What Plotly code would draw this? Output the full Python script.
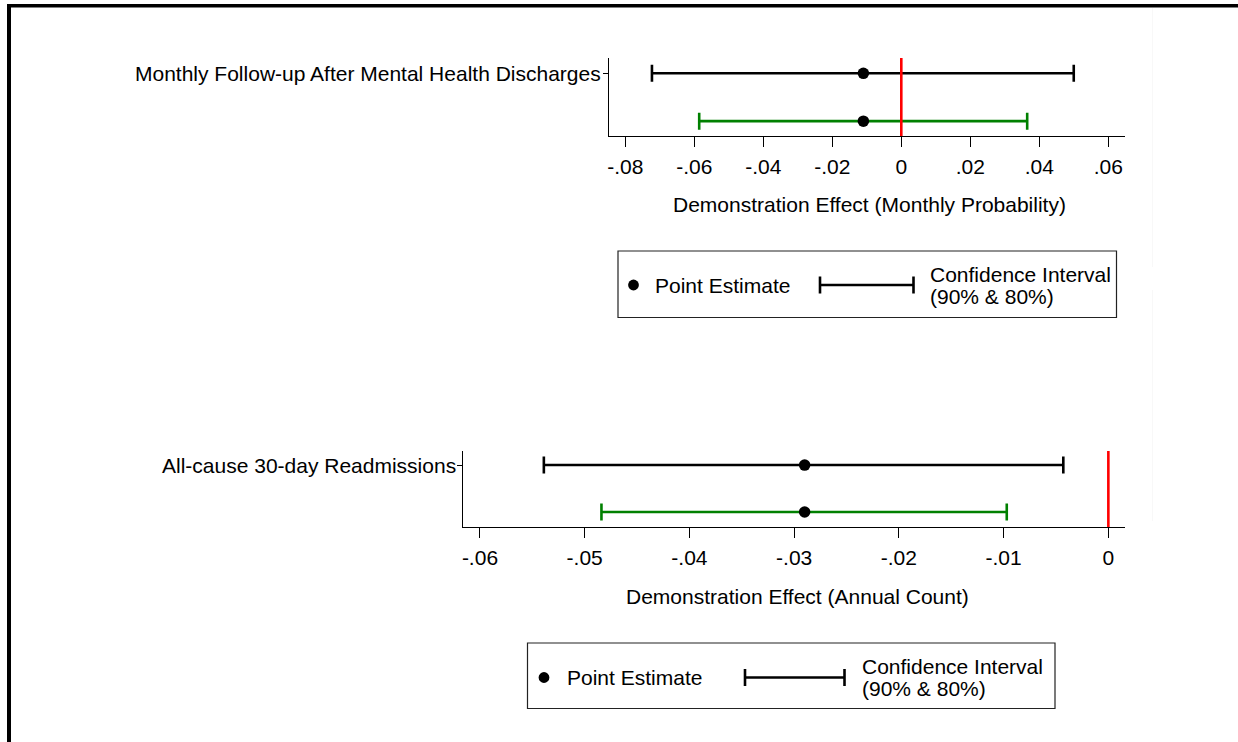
import plotly.graph_objects as go

# ---- data -------------------------------------------------------------
outcomes = ["Monthly Follow-up After Mental Health Discharges",
            "All-cause 30-day Readmissions"]
axis_titles = ["Demonstration Effect (Monthly Probability)",
               "Demonstration Effect (Annual Count)"]
point_estimate = [-0.0110, -0.0290]
ci90_low = [-0.0723, -0.0539]
ci90_high = [0.0500, -0.0043]
ci80_low = [-0.0586, -0.0484]
ci80_high = [0.0365, -0.0097]

top_tick_vals = [-0.08, -0.06, -0.04, -0.02, 0, 0.02, 0.04, 0.06]
top_tick_text = ["-.08", "-.06", "-.04", "-.02", "0", ".02", ".04", ".06"]
bot_tick_vals = [-0.06, -0.05, -0.04, -0.03, -0.02, -0.01, 0]
bot_tick_text = ["-.06", "-.05", "-.04", "-.03", "-.02", "-.01", "0"]

legend_point_label = "Point Estimate"
legend_ci_label = ["Confidence Interval", "(90% & 80%)"]

# ---- canvas helpers ---------------------------------------------------
W, H = 1238, 742
FONT = "Liberation Sans, Arial, Helvetica, sans-serif"
FS = 21
GREEN = "rgb(0,128,0)"


def fx(p):
    return p / W


def fy(p):
    return 1 - p / H


fig = go.Figure()

panels = [
    dict(xa="x", ya="y", xdom=(608.7, 1125), ydom=(58, 136),
         xrange=(-0.08484, 0.06486), yrange=(2.31, 0.68),
         tv=top_tick_vals, tt=top_tick_text, title_y=204),
    dict(xa="x2", ya="y2", xdom=(463, 1125), ydom=(451, 527),
         xrange=(-0.06162, 0.00159), yrange=(2.32, 0.70),
         tv=bot_tick_vals, tt=bot_tick_text, title_y=596),
]

shapes = []
annotations = []

for i, p in enumerate(panels):
    # 90% interval on the first row, 80% interval on the second row
    for row, lo, hi, col in ((1, ci90_low[i], ci90_high[i], "black"),
                             (2, ci80_low[i], ci80_high[i], GREEN)):
        est = point_estimate[i]
        fig.add_trace(go.Scatter(
            x=[est], y=[row], xaxis=p["xa"], yaxis=p["ya"],
            mode="markers",
            marker=dict(color="black", size=11.5),
            error_x=dict(type="data", symmetric=False,
                         array=[hi - est], arrayminus=[est - lo],
                         color=col, thickness=2.6, width=8.5),
            showlegend=False, hoverinfo="skip"))

    sfx = "" if i == 0 else "2"
    fig.layout["xaxis" + sfx] = dict(
        domain=[fx(p["xdom"][0]), fx(p["xdom"][1])],
        range=list(p["xrange"]), anchor="y" + sfx,
        showline=True, linecolor="black", linewidth=1,
        ticks="outside", ticklen=10, tickwidth=1, tickcolor="black",
        tickvals=p["tv"], ticktext=p["tt"], ticklabelstandoff=2,
        tickfont=dict(family=FONT, size=FS, color="black"),
        showgrid=False, zeroline=False, fixedrange=True)
    fig.layout["yaxis" + sfx] = dict(
        domain=[fy(p["ydom"][1]), fy(p["ydom"][0])],
        range=list(p["yrange"]), anchor="x" + sfx,
        showline=True, linecolor="black", linewidth=1,
        ticks="outside", ticklen=5, tickwidth=1, tickcolor="black",
        tickvals=[1], showticklabels=False,
        showgrid=False, zeroline=False, fixedrange=True)

    # outcome label sitting right against the y tick
    annotations.append(dict(
        text=outcomes[i], xref="paper", yref=p["ya"],
        x=fx(p["xdom"][0] - 5.5), y=1, xanchor="right", yanchor="middle",
        showarrow=False, font=dict(family=FONT, size=FS, color="black")))

    # reference line at zero
    shapes.append(dict(type="line", xref=p["xa"], yref=p["ya"] + " domain",
                       x0=0, x1=0, y0=0, y1=1,
                       line=dict(color="red", width=2.6)))

    annotations.append(dict(
        text=axis_titles[i], xref="paper", yref="paper",
        x=fx((p["xdom"][0] + p["xdom"][1]) / 2 + 3), y=fy(p["title_y"]),
        xanchor="center", yanchor="middle", showarrow=False,
        font=dict(family=FONT, size=FS, color="black")))

# ---- legend boxes -----------------------------------------------------
legends = [
    dict(box=(618, 251, 1116.5, 317.5), cy=285, dot=633.5, txt=652.5,
         ci=(820, 913.5), ci_txt=928.5),
    dict(box=(527.5, 643, 1055, 708.5), cy=677.5, dot=544, txt=564.5,
         ci=(745, 844.5), ci_txt=861),
]
for lg in legends:
    x0, y0, x1, y1 = lg["box"]
    shapes.append(dict(type="rect", xref="paper", yref="paper",
                       x0=fx(x0), x1=fx(x1), y0=fy(y1), y1=fy(y0),
                       line=dict(color="#222", width=1.2)))
    r = 5.4
    shapes.append(dict(type="circle", xref="paper", yref="paper",
                       x0=fx(lg["dot"] - r), x1=fx(lg["dot"] + r),
                       y0=fy(lg["cy"] + r), y1=fy(lg["cy"] - r),
                       fillcolor="black", line=dict(color="black", width=0)))
    c0, c1 = lg["ci"]
    cy = lg["cy"]
    for seg in ((c0, cy, c1, cy), (c0, cy - 8.5, c0, cy + 8.5),
                (c1, cy - 8.5, c1, cy + 8.5)):
        shapes.append(dict(type="line", xref="paper", yref="paper",
                           x0=fx(seg[0]), x1=fx(seg[2]),
                           y0=fy(seg[1]), y1=fy(seg[3]),
                           line=dict(color="black", width=2.6)))
    annotations.append(dict(
        text=legend_point_label, xref="paper", yref="paper",
        x=fx(lg["txt"]), y=fy(cy), xanchor="left", yanchor="middle",
        showarrow=False, font=dict(family=FONT, size=FS, color="black")))
    # two-line key label with tight leading
    annotations.append(dict(
        text=legend_ci_label[0], xref="paper", yref="paper",
        x=fx(lg["ci_txt"]), y=fy(cy + 1.5), xanchor="left", yanchor="bottom",
        showarrow=False, font=dict(family=FONT, size=FS, color="black"),
        borderpad=0))
    annotations.append(dict(
        text=legend_ci_label[1], xref="paper", yref="paper",
        x=fx(lg["ci_txt"]), y=fy(cy - 1.5), xanchor="left", yanchor="top",
        showarrow=False, font=dict(family=FONT, size=FS, color="black"),
        borderpad=0))

# ---- outer frame ------------------------------------------------------
shapes.append(dict(type="rect", xref="paper", yref="paper",
                   x0=fx(7), x1=1, y0=fy(7.5), y1=fy(4),
                   fillcolor="black", line=dict(width=0)))
shapes.append(dict(type="rect", xref="paper", yref="paper",
                   x0=fx(7), x1=fx(11), y0=0, y1=fy(4),
                   fillcolor="black", line=dict(width=0)))
# faint panel seams on the right
for ya, yb in ((8, 267), (290, 521)):
    shapes.append(dict(type="line", xref="paper", yref="paper",
                       x0=fx(1152.5), x1=fx(1152.5), y0=fy(yb), y1=fy(ya),
                       line=dict(color="#f8f8f8", width=1)))

fig.update_layout(
    width=W, height=H, autosize=False,
    margin=dict(l=0, r=0, t=0, b=0, pad=0),
    paper_bgcolor="white", plot_bgcolor="white",
    shapes=shapes, annotations=annotations,
    showlegend=False,
    font=dict(family=FONT, size=FS, color="black"),
)

fig.write_html("out.html", config=dict(displayModeBar=False))
